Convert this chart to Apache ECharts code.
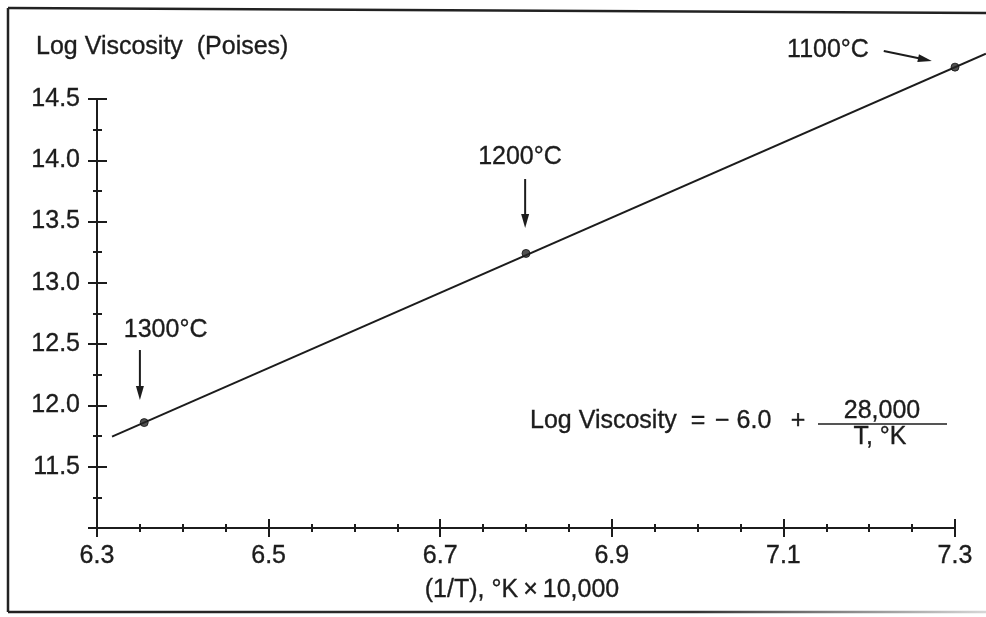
<!DOCTYPE html>
<html>
<head>
<meta charset="utf-8">
<script src="https://cdn.jsdelivr.net/npm/echarts@6/dist/echarts.min.js"></script>
<style>
  html, body { margin: 0; padding: 0; background: #ffffff; }
  #chart { width: 986px; height: 617px; }
</style>
</head>
<body>
<div id="chart"></div>
<script>
// Measured points: reciprocal absolute temperature (x 10,000) vs. log viscosity
const invTemp = [6.355, 6.800, 7.300];
const logViscosity = [11.86, 13.24, 14.76];
const tempLabels = ['1300°C', '1200°C', '1100°C'];

// Straight-line fit, running past the right end of the axis
const fitInvTemp = [6.3175, 7.336];
const fitLogViscosity = [11.745, 14.87];

// Tick labels shown on the axes
const xTickLabels = ['6.3', '6.5', '6.7', '6.9', '7.1', '7.3'];
const yTickLabels = ['11.5', '12.0', '12.5', '13.0', '13.5', '14.0', '14.5'];

// Callout placement in data units: label centre, arrow tail, arrow tip
const callouts = [
  { label: [6.380, 12.615], from: [6.350, 12.452], to: [6.350, 12.044] },
  { label: [6.793, 14.027], from: [6.799, 13.847], to: [6.799, 13.448] },
  { label: [7.152, 14.900], from: [7.217, 14.892], to: [7.273, 14.810] }
];

const FONT = "'Liberation Sans', Arial, Helvetica, sans-serif";
const INK = '#1c1c1c';
const FS = 25;
const HEAVY = 0.35; // slight outline to give the lettering some weight

const chart = echarts.init(document.getElementById('chart'), null, { renderer: 'canvas' });

const baseX = {
  type: 'value', min: 6.3, max: 7.3, interval: 0.2,
  position: 'bottom', splitLine: { show: false },
  axisLine: { show: true, onZero: false, lineStyle: { color: INK, width: 2 } },
  minorTick: { show: true, splitNumber: 4, length: 4, lineStyle: { color: INK, width: 2 } },
  minorSplitLine: { show: false }
};
const baseY = {
  type: 'value', min: 11.0, max: 14.5, interval: 0.5,
  position: 'left', splitLine: { show: false },
  axisLine: { show: true, onZero: false, lineStyle: { color: INK, width: 2 } },
  minorTick: { show: true, splitNumber: 2, length: 5, lineStyle: { color: INK, width: 2 } },
  minorSplitLine: { show: false }
};

const labelStyle = {
  fontSize: FS, fontFamily: FONT, color: INK,
  textBorderColor: INK, textBorderWidth: HEAVY
};

const option = {
  animation: false,
  backgroundColor: '#ffffff',
  textStyle: { fontFamily: FONT },
  title: {
    text: 'Log Viscosity  (Poises)',
    left: 36, top: 35, padding: 0,
    textStyle: Object.assign({ fontWeight: 'normal' }, labelStyle)
  },
  grid: { left: 97, top: 99, width: 858, height: 429 },
  xAxis: [
    Object.assign({}, baseX, {
      axisTick: { show: true, inside: false, length: 9, lineStyle: { color: INK, width: 2 } },
      axisLabel: Object.assign({
        show: true, margin: 16, showMinLabel: true, showMaxLabel: true,
        formatter: v => { const s = v.toFixed(1); return xTickLabels.includes(s) ? s : ''; }
      }, labelStyle),
      name: '(1/T), °K\u2009×\u200910,000',
      nameLocation: 'middle', nameGap: 50,
      nameTextStyle: Object.assign({ padding: [0, 8, 0, 0] }, labelStyle)
    }),
    Object.assign({}, baseX, {
      axisTick: { show: true, inside: true, length: 9, lineStyle: { color: INK, width: 2 } },
      axisLabel: { show: false }
    })
  ],
  yAxis: [
    Object.assign({}, baseY, {
      minorTick: Object.assign({}, baseY.minorTick, { length: 4 }),
      axisTick: { show: true, inside: false, length: 9, lineStyle: { color: INK, width: 2 } },
      axisLabel: Object.assign({
        show: true, margin: 17,
        formatter: v => { const s = v.toFixed(1); return yTickLabels.includes(s) ? s : ''; }
      }, labelStyle)
    }),
    Object.assign({}, baseY, {
      axisTick: { show: true, inside: true, length: 10, lineStyle: { color: INK, width: 2 } },
      axisLabel: { show: false }
    })
  ],
  series: [
    {
      // Fit line drawn as one polyline so it can run beyond the axis end
      type: 'custom',
      xAxisIndex: 0, yAxisIndex: 0,
      data: fitInvTemp.map((x, i) => [x, fitLogViscosity[i]]),
      clip: false, silent: true,
      encode: { x: 0, y: 1 },
      renderItem: (params, api) => {
        if (params.dataIndex !== 0) return null;
        const pts = fitInvTemp.map((x, i) => api.coord([x, fitLogViscosity[i]]));
        return {
          type: 'polyline',
          shape: { points: pts },
          style: { stroke: INK, lineWidth: 2, fill: null }
        };
      },
      z: 3
    },
    {
      type: 'scatter',
      xAxisIndex: 0, yAxisIndex: 0,
      data: invTemp.map((x, i) => [x, logViscosity[i]]),
      symbol: 'circle', symbolSize: 8, clip: false, silent: true,
      itemStyle: { color: '#262626', borderColor: '#111', borderWidth: 1 },
      z: 4
    }
  ]
};

chart.setOption(option);

// Pixel position of a data-space point
const toPx = p => chart.convertToPixel({ seriesIndex: 1 }, p);

function arrow(from, to) {
  const [x1, y1] = toPx(from);
  const [x2, y2] = toPx(to);
  const dx = x2 - x1, dy = y2 - y1;
  const len = Math.hypot(dx, dy);
  const ux = dx / len, uy = dy / len;
  const headLen = 14, headHalf = 4;
  const bx = x2 - ux * headLen, by = y2 - uy * headLen;
  return [
    { type: 'line', silent: true, shape: { x1, y1, x2: bx + ux * 2, y2: by + uy * 2 },
      style: { stroke: INK, lineWidth: 2 } },
    { type: 'polygon', silent: true,
      shape: { points: [[x2, y2], [bx - uy * headHalf, by + ux * headHalf], [bx + uy * headHalf, by - ux * headHalf]] },
      style: { fill: INK } }
  ];
}

function text(str, x, y, align) {
  return {
    type: 'text', silent: true, x, y,
    style: {
      text: str, fontSize: FS, fontFamily: FONT, fill: INK,
      stroke: INK, lineWidth: HEAVY,
      align: align || 'center', verticalAlign: 'middle'
    }
  };
}

const graphics = [];

// Temperature callouts with arrows
callouts.forEach((c, i) => {
  const [lx, ly] = toPx(c.label);
  graphics.push(text(tempLabels[i], lx, ly, 'center'));
  graphics.push(...arrow(c.from, c.to));
});

// Viscosity equation
graphics.push(text('Log Viscosity', 530, 421, 'left'));
graphics.push(text('=', 698, 421, 'center'));
graphics.push(text('\u2212 6.0', 715, 421, 'left'));
graphics.push(text('+', 798, 421, 'center'));
graphics.push({ type: 'line', silent: true, shape: { x1: 818, y1: 424, x2: 947, y2: 424 }, style: { stroke: INK, lineWidth: 1.5 } });
graphics.push(text('28,000', 882, 411, 'center'));
graphics.push(text('T, \u00b0K', 880, 437, 'center'));

// Outer frame
graphics.push({ type: 'line', silent: true, shape: { x1: 8, y1: 8, x2: 986, y2: 13 }, style: { stroke: '#222', lineWidth: 2.5 } });
graphics.push({ type: 'line', silent: true, shape: { x1: 8, y1: 8, x2: 8, y2: 612 }, style: { stroke: '#222', lineWidth: 2.5 } });
graphics.push({
  type: 'line', silent: true, shape: { x1: 8, y1: 612, x2: 986, y2: 612 },
  style: {
    lineWidth: 2.5,
    stroke: new echarts.graphic.LinearGradient(0, 0, 1, 0, [
      { offset: 0, color: '#222' }, { offset: 0.7, color: '#333' }, { offset: 1, color: '#d8d8d8' }
    ], false)
  }
});

chart.setOption({ graphic: graphics });
</script>
</body>
</html>
